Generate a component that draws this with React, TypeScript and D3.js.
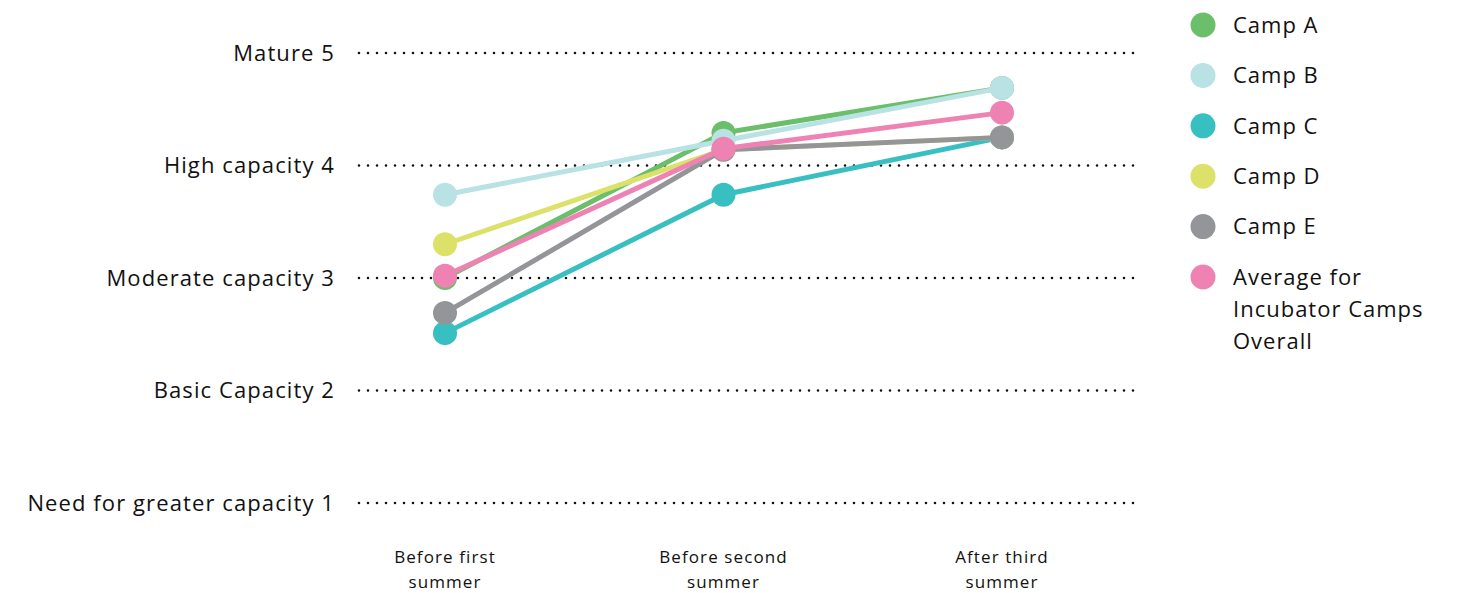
import React from 'react'
import * as d3 from 'd3'

// stages along the x axis (each label split in two lines)
const stages = ['Before first|summer', 'Before second|summer', 'After third|summer']

// capacity levels on the y axis
const levels = [1, 2, 3, 4, 5]
const levelNames = ['Need for greater capacity', 'Basic Capacity', 'Moderate capacity', 'High capacity', 'Mature']

const seriesNames = ['Camp A', 'Camp B', 'Camp C', 'Camp D', 'Camp E', 'Average for|Incubator Camps|Overall']
const seriesColors = ['#6bbf6a', '#b8e2e3', '#38bfc2', '#dce16a', '#949598', '#ee82b2']

const campA = [3.0, 4.29, 4.69]
const campB = [3.74, 4.22, 4.69]
const campC = [2.51, 3.74, 4.25]
const campD = [3.3, 4.14, 4.25]
const campE = [2.69, 4.14, 4.25]
const average = [3.02, 4.15, 4.47]
const seriesValues = [campA, campB, campC, campD, campE, average]

const W = 1457
const H = 593
const FONT = '"Open Sans", "DejaVu Sans", sans-serif'

export default function App() {
  const ref = React.useRef<SVGSVGElement>(null)

  React.useEffect(() => {
    const svg = d3.select(ref.current!)
    svg.selectAll('*').remove()

    const x = d3.scalePoint<string>().domain(stages).range([445, 1002])
    const y = d3.scaleLinear().domain([1, 5]).range([503, 53])

    // dotted gridlines + level labels
    const grid = svg.append('g')
    levels.forEach((lv, i) => {
      grid.append('line')
        .attr('x1', 359).attr('x2', 1140)
        .attr('y1', y(lv)).attr('y2', y(lv))
        .attr('stroke', '#111')
        .attr('stroke-width', 2.6)
        .attr('stroke-linecap', 'round')
        .attr('stroke-dasharray', '0 9')
      grid.append('text')
        .attr('x', 335).attr('y', y(lv))
        .attr('dy', '0.35em')
        .attr('text-anchor', 'end')
        .attr('font-size', 22)
        .attr('letter-spacing', 1.1)
        .attr('fill', '#111')
        .text(`${levelNames[i]} ${lv}`)
    })

    // x labels
    stages.forEach(s => {
      const t = svg.append('text')
        .attr('text-anchor', 'middle')
        .attr('font-size', 17)
        .attr('letter-spacing', 1.1)
        .attr('fill', '#111')
      s.split('|').forEach((ln, i) => {
        t.append('tspan').attr('x', x(s)!).attr('y', 563 + i * 25).text(ln)
      })
    })

    // lines and dots
    const line = d3.line<number>()
      .x((_, i) => x(stages[i])!)
      .y(d => y(d))

    seriesValues.forEach((vals, si) => {
      const g = svg.append('g')
      g.append('path')
        .attr('d', line(vals)!)
        .attr('fill', 'none')
        .attr('stroke', seriesColors[si])
        .attr('stroke-width', 5)
      g.selectAll('circle').data(vals).enter().append('circle')
        .attr('cx', (_, i) => x(stages[i])!)
        .attr('cy', d => y(d))
        .attr('r', 12)
        .attr('fill', seriesColors[si])
    })

    // legend
    const leg = svg.append('g')
    seriesNames.forEach((name, i) => {
      const cy = 25 + i * 50.4
      leg.append('circle').attr('cx', 1203).attr('cy', cy).attr('r', 12.5).attr('fill', seriesColors[i])
      const t = leg.append('text').attr('font-size', 22).attr('letter-spacing', 1).attr('fill', '#111')
      name.split('|').forEach((ln, j) => {
        t.append('tspan').attr('x', 1233).attr('y', cy + j * 32).attr('dy', '0.35em').text(ln)
      })
    })
  }, [])

  return (
    <svg
      ref={ref}
      width={W}
      height={H}
      style={{ position: 'absolute', left: 0, top: 0, background: '#fff', fontFamily: FONT }}
    />
  )
}
